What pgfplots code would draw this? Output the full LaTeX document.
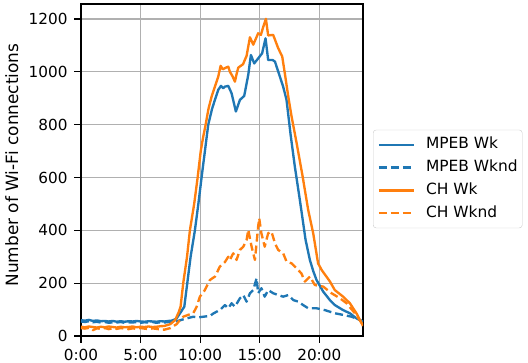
\documentclass[border=0pt]{standalone}
\usepackage{fontspec}
\setmainfont{DejaVu Sans}
\usepackage{pgfplots}
\pgfplotsset{compat=1.18}
\definecolor{tabblue}{HTML}{1F77B4}
\definecolor{taborange}{HTML}{FF7F0E}
\begin{document}
\begin{tikzpicture}
\begin{axis}[
 scale only axis, width=282bp, height=332bp,
 xmin=0, xmax=23.67, ymin=0, ymax=1257,
 xtick={0,5,10,15,20}, xticklabels={0:00,5:00,10:00,15:00,20:00},
 ytick={0,200,400,600,800,1000,1200},
 /pgf/number format/assume math mode=true,
 /pgf/number format/1000 sep={},
 tick label style={font=\fontsize{15.3}{18}\selectfont},
 xticklabel style={yshift=-3bp},
 yticklabel style={xshift=-3.5bp},
 label style={font=\fontsize{17}{20}\selectfont},
 ylabel={Number of Wi-Fi connections},
 ylabel style={at={(axis description cs:-0.245,0.515)}, anchor=center},
 grid=major, major grid style={color=black!31, line width=1.2bp},
 axis line style={line width=1.2bp},
 tick align=outside, major tick length=6.5bp, tick style={black, line width=1.2bp},
 xtick pos=left, ytick pos=left,
 every axis plot/.append style={line width=2.35bp, line join=round},
 legend image code/.code={\draw[#1] (0bp,0bp) -- (35bp,0bp); \path (46bp,0bp);},
 legend style={at={(1.0355,0.473)}, anchor=west, draw=black!20, rounded corners=3bp,
   font=\fontsize{15.5}{18}\selectfont, inner xsep=4.5bp, inner ysep=7.8bp,
   row sep=8.8bp, nodes={inner xsep=0pt, inner ysep=0pt, text height=11bp, text depth=3bp},
   cells={anchor=west}},
]
\addplot[tabblue] coordinates {
(0,60)(0.33,58)(0.67,61)(1,57)(1.33,59)(1.67,56)(2,57)(2.33,55)(2.67,57)(3,54)(3.33,56)(3.67,54)(4,56)(4.33,55)(4.67,57)(5,55)(5.33,54)(5.67,56)(6,55)(6.33,54)(6.67,56)(7,55)(7.33,57)(7.6,58)(8.0,65)(8.3,85)(8.67,111)(8.92,200)(9.2,300)(9.56,400)(9.85,500)(10.12,600)(10.4,700)(10.68,800)(11.0,860)(11.24,894)(11.52,932)(11.75,947)(11.94,938)(12.08,944)(12.36,947)(12.64,919)(13.0,850)(13.34,894)(13.7,909)(14.04,989)(14.26,1064)(14.54,1032)(14.87,1051)(15.2,1070)(15.49,1127)(15.71,1045)(16.08,1045)(16.28,1039)(16.7,981)(16.97,944)(17.25,894)(17.6,760)(17.95,641)(18.37,515)(18.85,364)(19.21,288)(19.5,245)(19.77,212)(20.33,168)(20.89,136)(21.31,117)(22.0,98)(22.57,86)(23.12,67)(23.67,54)
};
\addlegendentry{MPEB Wk}
\addplot[tabblue, dash pattern=on 8bp off 4bp] coordinates {
(0,55)(0.33,53)(0.67,56)(1,52)(1.33,54)(1.67,51)(2,53)(2.33,50)(2.67,52)(3,51)(3.33,53)(3.67,50)(4,52)(4.33,51)(4.67,53)(5,50)(5.33,52)(5.67,51)(6,53)(6.33,50)(6.67,52)(7,51)(7.33,53)(7.75,54)(8.2,58)(8.58,63)(9.0,68)(9.42,73)(9.8,70)(10.26,73)(10.82,76)(11.1,85)(11.38,92)(11.7,100)(11.94,111)(12.08,117)(12.36,105)(12.64,124)(12.92,111)(13.34,143)(13.62,155)(13.9,130)(14.18,162)(14.46,174)(14.74,219)(14.87,162)(15.14,181)(15.42,149)(15.71,174)(16.13,162)(16.55,155)(16.97,149)(17.4,155)(17.82,136)(18.24,130)(18.65,117)(19.07,105)(19.77,105)(20.47,98)(21.31,86)(22.0,80)(22.71,73)(23.4,61)(23.67,54)
};
\addlegendentry{MPEB Wknd}
\addplot[taborange] coordinates {
(0,35)(0.33,33)(0.67,36)(1,34)(1.33,32)(1.67,35)(2,33)(2.33,36)(2.67,34)(3,32)(3.33,35)(3.67,33)(4,34)(4.33,36)(4.67,33)(5,35)(5.33,34)(5.67,36)(6,34)(6.33,35)(6.67,37)(7,38)(7.5,45)(7.9,60)(8.2,90)(8.36,111)(8.58,200)(8.9,300)(9.14,400)(9.5,500)(9.79,600)(10.05,700)(10.26,755)(10.46,800)(10.7,860)(10.96,906)(11.24,944)(11.52,982)(11.72,1023)(11.9,1010)(12.08,1014)(12.36,1020)(12.5,1000)(12.7,985)(12.92,963)(13.05,990)(13.2,1016)(13.6,1029)(13.9,1061)(14.18,1131)(14.46,1103)(14.87,1146)(15.1,1140)(15.3,1171)(15.52,1201)(15.71,1138)(16.13,1140)(16.55,1090)(16.89,1058)(17.11,994)(17.4,906)(17.68,830)(18.1,730)(18.6,605)(19.07,477)(19.49,389)(19.9,275)(20.2,250)(20.9,206)(21.3,174)(22.0,149)(22.57,124)(23.12,86)(23.67,38)
};
\addlegendentry{CH Wk}
\addplot[taborange, dash pattern=on 8bp off 4bp] coordinates {
(0,30)(0.33,28)(0.67,31)(1,22)(1.33,29)(1.67,27)(2,30)(2.33,26)(2.67,29)(3,27)(3.33,30)(3.67,28)(4,26)(4.33,29)(4.67,27)(5,30)(5.33,28)(5.67,26)(6,29)(6.33,27)(6.67,25)(7,24)(7.5,30)(8.03,45)(8.3,60)(8.58,73)(9.0,80)(9.42,86)(9.7,110)(9.98,149)(10.4,174)(10.82,212)(11.24,225)(11.66,263)(12.08,280)(12.36,300)(12.5,288)(12.78,313)(13.06,288)(13.34,326)(13.62,338)(13.9,364)(14.04,402)(14.32,338)(14.6,288)(14.87,414)(14.96,446)(15.14,389)(15.42,338)(15.71,389)(15.99,395)(16.28,351)(16.55,326)(16.97,313)(17.25,282)(17.68,275)(18.1,256)(18.5,237)(18.79,206)(19.21,225)(19.63,193)(20.33,187)(21.03,162)(21.73,143)(22.29,124)(22.99,86)(23.67,42)
};
\addlegendentry{CH Wknd}
\end{axis}
\pgfresetboundingbox
\path[use as bounding box] (-81bp,-27bp) rectangle (447bp,336bp);
\end{tikzpicture}
\end{document}
